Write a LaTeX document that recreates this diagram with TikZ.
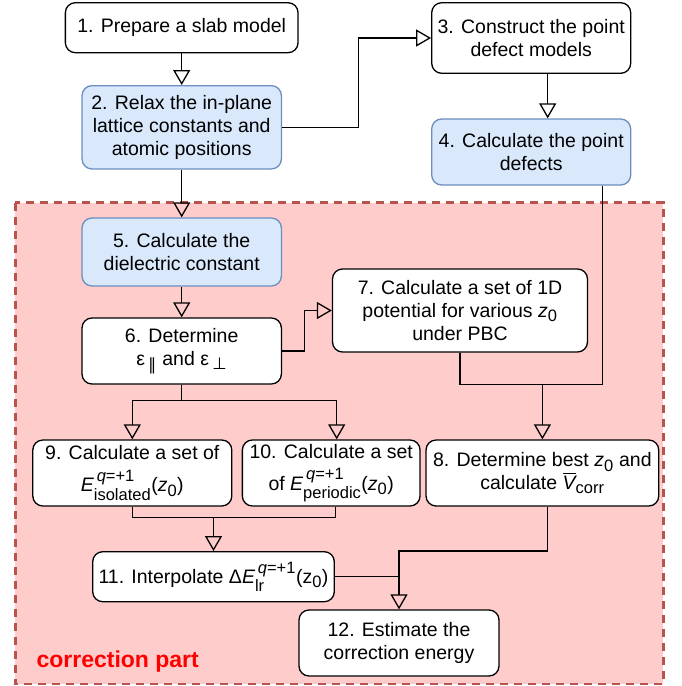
\documentclass[tikz,border=0pt]{standalone}
\usepackage{amsmath}
\usepackage{fontspec}
\setmainfont{Liberation Sans}
\newfontfamily\dejavu{DejaVu Sans}
\DeclareMathSizes{19.5}{19.5}{16.5}{12}
\usetikzlibrary{arrows.meta,calc}
\definecolor{bluefill}{HTML}{DAE8FC}
\definecolor{bluedraw}{HTML}{6C8EBF}
\definecolor{redfill}{HTML}{FFCCCC}
\definecolor{reddraw}{HTML}{B85450}
\newcommand{\zz}{\textit{z}\textsubscript{0}}
\newcommand{\Eq}[1]{$\textit{E}^{\,\textit{q}\text{=+1}}_{\text{#1}}$}
\begin{document}
\begin{tikzpicture}[x=1pt,y=-1pt,
  box/.style={draw, line width=1.3pt, rounded corners=10pt, fill=white, align=center,
    inner sep=0pt, font=\fontsize{19.5}{23}\selectfont},
  bluebox/.style={box, fill=bluefill, draw=bluedraw},
  conn/.style={line width=1.3pt, -{Triangle[open, length=15pt, width=17pt, line width=1.3pt]}},
  line/.style={line width=1.3pt}]
\useasboundingbox (0,0) rectangle (682,686);
\fill[redfill] (15.3,202.7) rectangle (663.3,684);
\draw[reddraw, line width=2.6pt, dash pattern=on 8pt off 6pt] (15.3,202.7) rectangle (663.3,684);
\node[text=red, font=\bfseries\fontsize{23}{26}\selectfont, anchor=base west] (lab) at (33,667) {correction part};

\node[box, minimum width=232.7pt, minimum height=50pt] (b1) at (181.7,27.7) {1. Prepare a slab model};
\node[bluebox, minimum width=199.4pt, minimum height=83.3pt] (b2) at (181.7,127.3) {2. Relax the in-plane\\lattice constants and\\atomic positions};
\node[box, minimum width=199pt, minimum height=70.6pt] (b3) at (531.2,38) {3. Construct the point\\defect models};
\node[bluebox, minimum width=199pt, minimum height=66pt] (b4) at (531.2,152) {4. Calculate the point\\defects};
\node[bluebox, minimum width=199.4pt, minimum height=68pt] (b5) at (181.7,252) {5. Calculate the\\dielectric constant};
\node[box, minimum width=199.4pt, minimum height=66pt] (b6) at (181.7,351) {6. Determine\\ε\,\textsubscript{\dejavu ∥} and ε\,\textsubscript{\dejavu ⊥}};
\node[box, minimum width=255pt, minimum height=83pt] (b7) at (460,310.5) {7. Calculate a set of 1D\\potential for various \zz\\under PBC};
\node[box, minimum width=199pt, minimum height=66pt] (b9) at (132.3,473) {9. Calculate a set of\\[9pt]\Eq{isolated}(\zz)};
\node[box, minimum width=177.7pt, minimum height=66pt] (b10) at (331.2,473) {10. Calculate a set\\[9pt]of \Eq{periodic}(\zz)};
\node[box, minimum width=232.7pt, minimum height=66pt] (b8) at (542.4,473) {8. Determine best \zz{} and\\calculate $\overline{\textit{V}}_{\text{corr}}$};
\node[box, minimum width=241.6pt, minimum height=50pt] (b11) at (213.5,576.7) {11. Interpolate Δ\Eq{lr}(z\textsubscript{0})};
\node[box, minimum width=200pt, minimum height=66pt] (b12) at (399,643) {12. Estimate the\\correction energy};

\draw[conn] (b1.south) -- (b2.north);
\draw[conn] (b2.east) -- (358.5,127.3) |- (b3.west);
\draw[conn] ($(b3.south)+(16.5,0)$) -- ($(b4.north)+(16.5,0)$);
\draw[conn] (b2.south) -- (b5.north);
\draw[conn] (b5.south) -- (b6.north);
\draw[conn] (b6.east) -- (304.8,351) |- (b7.west);
\coordinate (j8) at (542.4,384.3);
\draw[line] (b7.south) |- (j8);
\draw[line] ($(b4.south)+(71,0)$) |- (j8);
\draw[conn] (j8) -- (b8.north);
\coordinate (j6) at (181.7,400.7);
\draw[line] (b6.south) -- (j6);
\draw[conn] (j6) -| (b9.north);
\draw[conn] (j6) -| ($(b10.north)+(5.5,0)$);
\coordinate (j9) at (213.5,517.7);
\draw[line] (b9.south) |- (j9);
\draw[line] ($(b10.south)+(4,0)$) |- (j9);
\draw[conn] (j9) -- (b11.north);
\coordinate (t12) at (399,551);
\draw[conn] ($(b8.south)+(5,0)$) |- (t12) -- (b12.north);
\draw[line] (b11.east) -- (b11.east -| b12.north);
\end{tikzpicture}
\end{document}
